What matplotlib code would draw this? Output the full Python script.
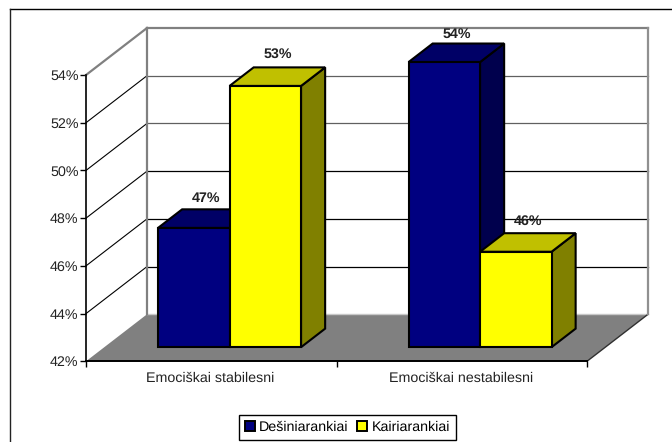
import matplotlib
matplotlib.use("Agg")
import matplotlib.pyplot as plt
from matplotlib.patches import Polygon, Patch
from matplotlib.lines import Line2D

plt.rcParams['font.family'] = ['Liberation Sans', 'DejaVu Sans']
plt.rcParams['text.hinting'] = 'none'

categories = ["Emociškai stabilesni", "Emociškai nestabilesni"]
series_names = ["Dešiniarankiai", "Kairiarankiai"]
right_handed = [47.0, 53.95]
left_handed = [52.95, 46.0]
labels_right = ["47%", "54%"]
labels_left = ["53%", "46%"]
y_ticks = [42, 44, 46, 48, 50, 52, 54]

W, H = 672, 442
L, R, T, B = 86, 587, 75, 361.3
fig = plt.figure(figsize=(W / 100, H / 100), dpi=100)
ax = fig.add_axes([L / W, 1 - B / H, (R - L) / W, (B - T) / H])
ax.set_xlim(0, 2)
ax.set_ylim(42, 54)
ax.patch.set_visible(False)
for s in ax.spines.values():
    s.set_visible(False)

PX_X = 2 / (R - L)
PX_Y = 12 / (B - T)
DX = 61 * PX_X
DY = 47 * PX_Y
FS = 10.25


def P(x, y, d=0.0):
    return (x + d * DX, y + d * DY)


def poly(pts, fc, ec='none', lw=0, z=1, **kw):
    ax.add_patch(Polygon(pts, closed=True, facecolor=fc, edgecolor=ec, linewidth=lw,
                         zorder=z, clip_on=False, joinstyle='miter', **kw))


def line(a, b, color='black', lw=1.0, z=2):
    ax.add_line(Line2D([a[0], b[0]], [a[1], b[1]], color=color, linewidth=lw, zorder=z,
                       clip_on=False, solid_capstyle='projecting'))


# floor
poly([P(0, 42), P(0, 42, 1), P(2, 42, 1), P(2, 42)], '#808080', z=1)
line(P(0, 42, 1), P(2, 42, 1), '#c8c8c8', 1.0, 1.5)
line(P(2, 42), P(2, 42, 1), '#303030', 1.0, 2)

# walls, gridlines
grid_colors = {44: 'black', 46: 'black', 48: 'black', 50: '#606060', 52: '#606060'}
for t in y_ticks[1:-1]:
    line(P(0, t), P(0, t, 1), 'black', 0.8, 2)
    line(P(0, t, 1), P(2, t, 1), grid_colors[t], 0.9, 2)
line(P(0, 54), P(0, 54, 1), '#808080', 1.6, 2.2)
line(P(0, 54, 1), P(2, 54, 1), '#808080', 1.6, 2.2)
line(P(0, 42, 1), P(0, 54, 1), '#808080', 1.6, 2.2)
line(P(2, 42, 1), P(2, 54, 1), '#909090', 1.6, 2.2)

# axes lines and ticks
line(P(0, 42), P(0, 54), 'black', 1.2, 3)
line(P(0, 42), P(2, 42), 'black', 1.4, 3)

ax.set_yticks(y_ticks)
ax.set_yticklabels([f"{t}%" for t in y_ticks], fontsize=FS, color='#222222')
ax.set_xticks([0, 1, 2])
ax.set_xticklabels([])
ax.tick_params(axis='both', length=4.3, width=1.0, color='black', pad=1.0)
for i, c in enumerate(categories):
    ax.text(i + 0.5 - 0.003, 42 - 17 * PX_Y, c, ha='center', va='center', fontsize=FS,
            color='#222222')

# bars
BW = 71.5 * PX_X
D0, D1 = 0.3, 0.695
EC = 'black'
ELW = 1.5
styles = [('#000080', '#000066', '#00004d'), ('#ffff00', '#c0c000', '#808000')]
gaps = [[11, 9.4], [13.3, 11.7]]
label_sets = [labels_right, labels_left]


def bar(x0, v, col, lab, gap):
    x1 = x0 + BW
    poly([P(x1, 42, D0), P(x1, 42, D1), P(x1, v, D1), P(x1, v, D0)], col[2], EC, ELW, 5)
    poly([P(x0, v, D0), P(x0, v, D1), P(x1, v, D1), P(x1, v, D0)], col[1], EC, ELW, 5)
    poly([P(x0, 42, D0), P(x1, 42, D0), P(x1, v, D0), P(x0, v, D0)], col[0], EC, ELW, 5)
    tx = P(x0 + BW / 2, v, D0)[0] + 12.5 * PX_X
    ty = P(x0, v, D1)[1]
    ax.text(tx, ty + gap * PX_Y, lab, ha='center', va='center', fontsize=FS,
            fontweight='bold', color='#222222', zorder=8, clip_on=False)


for i in range(len(categories)):
    gx = i + 0.5 - BW
    bar(gx, right_handed[i], styles[0], label_sets[0][i], gaps[0][i])
    bar(gx + BW, left_handed[i], styles[1], label_sets[1][i], gaps[1][i])

# chart frame (only top and left are inside the picture)
fig.add_artist(Line2D([10 / W, 1], [1 - 8.5 / H] * 2, color='black', lw=1.0))
fig.add_artist(Line2D([10 / W, 10 / W], [0, 1 - 8.5 / H], color='#222222', lw=1.0))

# legend
handles = [Patch(facecolor='#000080', edgecolor='black', linewidth=1.4, label=series_names[0]),
           Patch(facecolor='#ffff00', edgecolor='black', linewidth=1.4, label=series_names[1])]
fig.legend(handles=handles, loc='lower left', bbox_to_anchor=(239 / W, 1 - 439.5 / H),
           ncol=2, fontsize=FS, frameon=True, fancybox=False, edgecolor='black', framealpha=1,
           handlelength=0.7, handleheight=0.63, handletextpad=0.3, columnspacing=0.63,
           borderpad=0.4, borderaxespad=0).get_frame().set_linewidth(1.0)

fig.savefig("out.png", dpi=100)
